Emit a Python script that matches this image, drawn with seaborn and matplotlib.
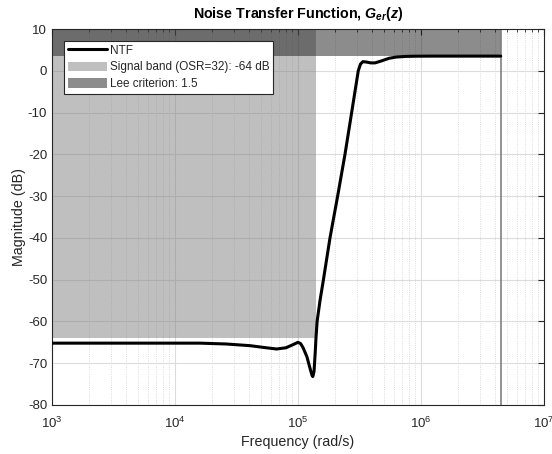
import numpy as np
import pandas as pd
import seaborn as sns
import matplotlib.pyplot as plt
from matplotlib.patches import Patch
from matplotlib.lines import Line2D

# =======================
# Datos
# =======================
freq = [1e3, 2e3, 5e3, 1e4, 1.6e4, 2.6e4, 4.07e4, 5.5e4, 6.7e4, 8.0e4, 9.2e4,
        1.0e5, 1.05e5, 1.1e5, 1.18e5, 1.26e5, 1.30e5, 1.32e5, 1.35e5, 1.38e5,
        1.40e5, 1.43e5, 1.51e5, 1.61e5, 1.82e5, 2.1e5, 2.41e5, 2.73e5, 3.09e5, 3.22e5, 3.37e5,
        3.6e5, 3.9e5, 4.23e5, 4.8e5, 5.5e5, 6.3e5, 7.5e5, 9e5, 1.2e6, 2e6, 4.45e6]
mag_db = [-65.2, -65.2, -65.2, -65.2, -65.2, -65.4, -65.8, -66.3, -66.6, -66.3, -65.5,
          -65.0, -65.3, -66.3, -68.4, -71.5, -72.9, -73.2, -72.0, -67.5,
          -64.0, -60.0, -55.0, -50.0, -40.0, -30.0, -20.0, -10.0, 0.0, 1.6, 2.2,
          2.1, 1.9, 1.9, 2.4, 3.0, 3.3, 3.45, 3.5, 3.52, 3.52, 3.52]

nyquist = 4.45e6
osr = 32
band_edge = nyquist / osr
band_db = -64
lee = 1.5
lee_db = 20 * np.log10(lee)

df = pd.DataFrame({'freq': freq, 'mag': mag_db})

# =======================
# Grafico
# =======================
sns.set_style('white')
plt.rcParams['font.family'] = ['Liberation Sans', 'DejaVu Sans']
plt.rcParams['axes.unicode_minus'] = False
plt.rcParams['mathtext.fontset'] = 'custom'
plt.rcParams['mathtext.it'] = 'Liberation Sans:italic:bold'
plt.rcParams['mathtext.rm'] = 'Liberation Sans:bold'

fig = plt.figure(figsize=(5.52, 4.54), dpi=100)
ax = fig.add_axes([0.0942, 0.108, 0.8913, 0.828])

# zonas sombreadas
ax.fill_between([1e3, band_edge], band_db, 10, color='#808080', alpha=0.5, lw=0, zorder=1)
ax.fill_between([1e3, nyquist], lee_db, 10, color='#1a1a1a', alpha=0.5, lw=0, zorder=1)
ax.axvline(nyquist, color='#808080', lw=1.2, zorder=2)

sns.lineplot(data=df, x='freq', y='mag', color='black', lw=2.2, ax=ax, zorder=3)

ax.set_xscale('log')
ax.set_xlim(1e3, 1e7)
ax.set_ylim(-80, 10)
ax.set_yticks(np.arange(-80, 11, 10))

ax.grid(True, which='major', color='#dcdcdc', lw=0.8, zorder=0)
ax.grid(True, which='minor', axis='x', color='#d0d0d0', lw=0.6, ls=':', zorder=0)
ax.set_axisbelow(True)

txt = '#262626'
ax.tick_params(which='both', direction='in', top=True, right=True, colors=txt,
               labelsize=9.5, length=4)
ax.tick_params(which='minor', length=2.5)
ax.tick_params(axis='x', which='major', pad=7.5)
for s in ax.spines.values():
    s.set_color(txt)
    s.set_linewidth(0.8)

ax.set_xlabel('Frequency (rad/s)', fontsize=10.3, color=txt, labelpad=3)
ax.set_ylabel('Magnitude (dB)', fontsize=10.3, color=txt, labelpad=1)
ax.set_title(r'Noise Transfer Function, $G_{er}(z)$', fontsize=10.3,
             fontweight='bold', color='black', pad=8)

handles = [Line2D([], [], color='black', lw=2.2),
           Patch(facecolor='#bfbfbf', edgecolor='none'),
           Patch(facecolor='#8c8c8c', edgecolor='none')]
labels = ['NTF', f'Signal band (OSR={osr}): {band_db} dB', f'Lee criterion: {lee}']
leg = ax.legend(handles, labels, loc='upper left', bbox_to_anchor=(0.0244, 0.968),
                fontsize=8.5, frameon=True, fancybox=False, framealpha=1,
                edgecolor=txt, borderpad=0.3, labelspacing=0.4, handleheight=0.85,
                handlelength=3.3, handletextpad=0.3, borderaxespad=0)
leg.get_frame().set_linewidth(0.8)

fig.savefig('out.png', dpi=100)
